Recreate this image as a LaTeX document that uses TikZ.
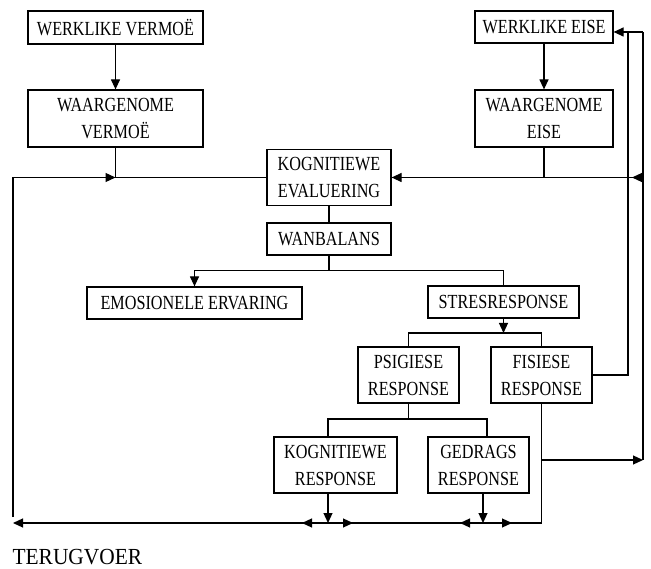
\documentclass[tikz,border=0pt]{standalone}
\usepackage{fontspec}
\setmainfont[FakeStretch=0.81]{Liberation Serif}
\newfontfamily\tvfont[FakeStretch=0.93]{Liberation Serif}
\usetikzlibrary{arrows.meta}
\begin{document}
\begin{tikzpicture}[x=1pt,y=-1pt,line width=1.2pt,>={Triangle[length=10pt,width=9pt]},
  box/.style={draw,align=center,inner sep=0pt,font=\fontsize{20}{27}\selectfont}]
\useasboundingbox (0,0) rectangle (651,569);
\node[box,minimum width=175pt,minimum height=33pt] (wv) at (115.5,27.5) {WERKLIKE VERMOË};
\node[box,minimum width=175pt,minimum height=57pt] (pv) at (115.5,118.5) {WAARGENOME\\VERMOË};
\node[box,minimum width=138pt,minimum height=32pt] (we) at (544,27) {WERKLIKE EISE};
\node[box,minimum width=138pt,minimum height=57pt] (pe) at (544,118.5) {WAARGENOME\\EISE};
\node[box,minimum width=124pt,minimum height=56pt] (ke) at (329,177.5) {KOGNITIEWE\\EVALUERING};
\node[box,minimum width=124pt,minimum height=32pt] (wb) at (329,239) {WANBALANS};
\node[box,minimum width=215pt,minimum height=32pt] (ee) at (194.5,303) {EMOSIONELE ERVARING};
\node[box,minimum width=151pt,minimum height=32pt] (sr) at (503.5,302) {STRESRESPONSE};
\node[box,minimum width=101pt,minimum height=56pt] (ps) at (408.5,375) {PSIGIESE\\RESPONSE};
\node[box,minimum width=101pt,minimum height=56pt] (fs) at (541.5,375) {FISIESE\\RESPONSE};
\node[box,minimum width=123pt,minimum height=56pt] (kr) at (335.5,465) {KOGNITIEWE\\RESPONSE};
\node[box,minimum width=101pt,minimum height=56pt] (gr) at (478.5,465) {GEDRAGS\\RESPONSE};
\node[anchor=base west,inner sep=0pt,font=\tvfont\fontsize{23}{26}\selectfont] (tv) at (12,564) {TERUGVOER};
\coordinate (lt) at (13,517);
\coordinate (fl) at (13,523);
\coordinate (bl) at (541.5,523);
\coordinate (ro) at (643,32);
\coordinate (ri) at (628,32);
\coordinate (rb) at (643,460);
\coordinate (b2) at (503.5,333);
\coordinate (b3) at (408.5,419);
\coordinate (k1) at (328,419);
\coordinate (g1) at (487,419);
\coordinate (k2) at (328,523);
\coordinate (g2) at (483,523);
\draw[->] (wv.south) -- (pv.north);
\draw[->] (we.south) -- (pe.north);
\draw (pv.south) -- (pv.south |- ke.west) -- (ke.west);
\draw[->] (lt) |- (pv.south |- ke.west);
\draw (pe.south) -- (pe.south |- ke.east);
\draw[->] (ro |- ke.east) -- (ke.east);
\draw[->] (ro |- ke.east) -- ++(-11,0);
\draw[->] (ro) -- (ro -| we.east);
\draw (fs.east) -| (ri);
\draw (rb) -- (ro);
\draw[->] (fs.south |- rb) -- (rb);
\draw (fs.south) -- (bl);
\draw[->] (bl) -- (fl);
\draw (ke.south) -- (wb.north);
\draw (wb.south) -- ++(0,15) coordinate (b1);
\draw[->] (b1) -| (ee.north);
\draw (b1) -| (sr.north);
\draw[->] (sr.south) -- (b2);
\draw (ps.north) |- (b2) -| (fs.north);
\draw (ps.south) -- (b3);
\draw (k1 |- kr.north) -- (k1) -- (g1) -- (g1 |- gr.north);
\draw[->] (k2 |- kr.south) -- (k2);
\draw[->] (g2 |- gr.south) -- (g2);
\foreach \c/\l/\r in {k2/26/25,g2/23/29}{
\draw[->] (\c) -- ++(-\l,0);
\draw[->] (\c) -- ++(\r,0);
}
\end{tikzpicture}
\end{document}
